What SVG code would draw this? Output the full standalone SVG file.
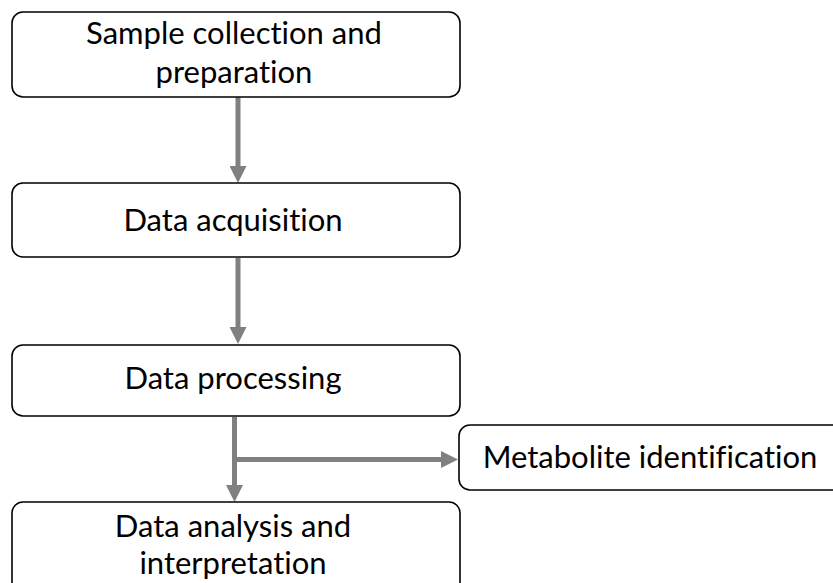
<svg xmlns="http://www.w3.org/2000/svg" width="833" height="583" viewBox="0 0 833 583">
  <style>
    .box { fill: #ffffff; stroke: #000000; stroke-width: 1.6; }
    .lbl { font-family: Lato, "Open Sans", "Liberation Sans", sans-serif; font-size: 31px; fill: #000000; text-anchor: middle; font-variant-ligatures: none; font-feature-settings: "liga" 0; }
    .conn { stroke: #808080; stroke-width: 5; fill: none; }
  </style>
  <defs>
    <marker id="arrow" markerUnits="userSpaceOnUse" markerWidth="17" markerHeight="17" refX="0" refY="8.5" orient="auto" viewBox="0 0 17 17">
      <path d="M0,0 L17,8.5 L0,17 Z" fill="#808080"/>
    </marker>
  </defs>
  <rect width="833" height="583" fill="#ffffff"/>
  <g id="connectors">
    <line class="conn" x1="238" y1="97" x2="238" y2="166" marker-end="url(#arrow)"/>
    <line class="conn" x1="238" y1="258" x2="238" y2="327" marker-end="url(#arrow)"/>
    <line class="conn" x1="234.5" y1="417" x2="234.5" y2="485" marker-end="url(#arrow)"/>
    <line class="conn" x1="234.5" y1="459.5" x2="441" y2="459.5" marker-end="url(#arrow)"/>
  </g>
  <g id="node-sample">
    <rect class="box" x="12" y="12" width="448" height="85" rx="11"/>
    <text class="lbl" x="234" y="44">Sample collection and</text>
    <text class="lbl" x="234" y="83">preparation</text>
  </g>
  <g id="node-acquisition">
    <rect class="box" x="12" y="183" width="448" height="74" rx="11"/>
    <text class="lbl" x="233" y="231">Data acquisition</text>
  </g>
  <g id="node-processing">
    <rect class="box" x="12" y="345" width="448" height="71" rx="11"/>
    <text class="lbl" x="233" y="389">Data processing</text>
  </g>
  <g id="node-metabolite">
    <rect class="box" x="459" y="425" width="400" height="65" rx="11"/>
    <text class="lbl" x="650" y="468">Metabolite identification</text>
  </g>
  <g id="node-analysis">
    <rect class="box" x="12" y="502" width="448" height="120" rx="11"/>
    <text class="lbl" x="233" y="537">Data analysis and</text>
    <text class="lbl" x="233" y="574">interpretation</text>
  </g>
</svg>
